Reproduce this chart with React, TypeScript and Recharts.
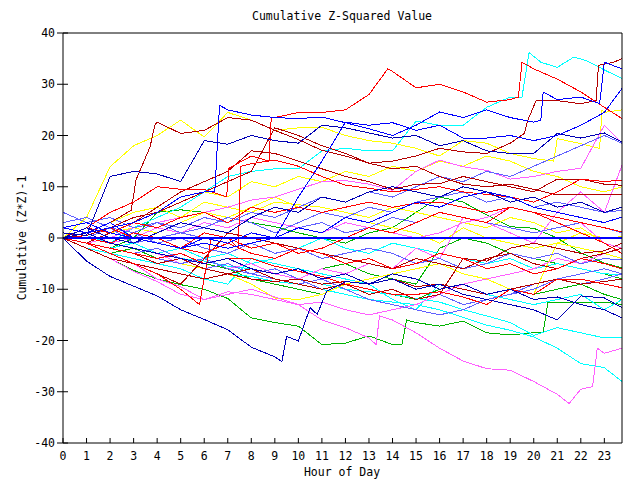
import { LineChart, Line, XAxis, YAxis } from 'recharts';

// sample times (hours): hourly readings plus the last quarter; a few series carry extra points at their jumps
const HOURS = [0, 1, 2, 3, 4, 5, 6, 7, 8, 9, 10, 11, 12, 13, 14, 15, 16, 17, 18, 19, 20, 21, 22, 23, 23.75];
const X_TICKS = [0, 1, 2, 3, 4, 5, 6, 7, 8, 9, 10, 11, 12, 13, 14, 15, 16, 17, 18, 19, 20, 21, 22, 23];
const Y_TICKS = [-40, -30, -20, -10, 0, 10, 20, 30, 40];

const RED = '#ff0000';
const DARKRED = '#b40000';
const BLUE = '#0000ff';
const NAVY = '#0000b4';
const LIGHTBLUE = '#6060ff';
const YELLOW = '#ffff00';
const CYAN = '#00ffff';
const PINK = '#ff60ff';
const GREEN = '#00b400';

const green1T = [0, 1, 2, 3, 4, 5, 6, 7, 8, 9, 10, 11, 12, 13, 14, 14.4, 14.6, 15, 16, 17, 18, 19, 20, 20.4, 20.6, 21, 22, 23, 23.75];
const green1 = [0, -2, -4, -6.3, -8, -9.1, -10, -11.8, -15.6, -16.5, -17.2, -20.8, -20.5, -19.1, -20.8, -20.8, -16, -16.5, -17.2, -16.2, -18.5, -18.9, -18.5, -18.5, -12.5, -12.5, -12.5, -12.5, -13];
const green2 = [0, -1, -2, 0, 5, 5.5, 5, 4, 3, 2.2, 1, 0, -1, 1, 2, 5, 8, 7, 4.5, 2.2, 1.9, 0, -2.9, -4.9, -5.8];
const green3 = [0, 1, -1, -2, -3, -4, -5, -4, -6, -7, -8, -6, -5, -7, -8, -9, -2, 0, -1, -3, -4, -5, -6, -7, -8];
const green4 = [0, -1, -3, -2, -4, -3, -5, -6, -8, -9, -10, -11, -9, -10, -11, -12, -10, -9, -8, -10, -11, -10, -9, -11, -12];

const cyan1T = [0, 1, 2, 3, 4, 5, 6, 7, 8, 9, 10, 11, 12, 13, 14, 15, 16, 17, 18, 19, 19.5, 19.8, 20.3, 21, 21.7, 22.25, 23, 23.75];
const cyan1 = [0, 1, -1, 2, 4, 6, 9, 12, 13, 13.5, 13.5, 17, 17.5, 17, 17, 22.8, 22, 22, 25.5, 27.5, 27.5, 36.2, 34.3, 33.3, 35.3, 34.6, 32.8, 31.1];
const cyan2 = [0, 0.5, -1, -2, -3, -4, -4.5, -5.5, -6, -7, -8, -9, -10, -10.5, -11, -11.8, -12.5, -14, -15.2, -16.5, -19, -17.5, -18.5, -19.5, -19.5];
const cyan3 = [0, -1, -2, -1, -3, -2, -4, -3, -5, -4, -2, 0, -2, -3, -1, -2, -3, -4, -5, -4, -6, -5, -6, -7, -7.1];
const cyan4 = [0, -2, -3, -4, -5, -6, -8, -9, -4, -5, -6, -7, -8, -9, -12, -14, -9, -10, -11, -12, -13, -12, -11, -14, -12];
const cyan5 = [0, -1, -2, -3, -4, -5, -6, -7, -7.5, -8.5, -9, -10, -11, -12, -12.5, -13, -14, -15.5, -17, -18, -19.3, -21.5, -24.5, -25.3, -28];

const yellow1T = [0, 1, 2, 3, 4, 5, 6, 7, 8, 9, 10, 11, 12, 13, 14, 15, 16, 17, 18, 19, 20, 20.85, 21, 22, 22.8, 22.9, 23, 23.75];
const yellow1 = [0, 4, 13.9, 18, 20, 23, 19.7, 24.5, 23, 21, 21.5, 21.6, 20, 19, 18.5, 17.5, 16, 19, 18.5, 16.5, 15.5, 15, 19.4, 18.4, 17.5, 24.9, 24.5, 25];
const yellow2 = [0, -1, 1, 2, 1, 3, 5, 4, 6, 8, 6, 5, 4, 3, 2, 1, -1, 2, 0, -1, -2, -1, 1, 0, 0.25];
const yellow3 = [0, -1, -2, -3, -4, -5, -6, -7, -9, -11.7, -12, -11, -9, -8, -7, -6, -5, -7, -8, -10, -11, -1, -2, -3, -4];
const yellow4 = [0, 1, 3, 5, 6, 4, 7, 6, 5, 7, 6.5, 6, 5, 4, 6, 5, 4, 3, 2, 4, 3, 1, 2, -1, -2];
const yellow5 = [0, 2, 1, 3, 5, 7, 9, 8, 11, 10, 12, 11, 13, 12, 14, 13, 15, 14, 16, 15, 13, 12, 10, 9, 10];

const pink1T = [0, 1, 2, 3, 4, 5, 6, 7, 8, 9, 10, 11, 12, 13, 13.3, 13.45, 14, 15, 16, 17, 18, 19, 20, 21, 21.5, 22, 22.5, 22.7, 23, 23.75];
const pink1 = [0, -2, -4, -6.5, -8.5, -11, -12, -11, -10, -11.5, -13, -16, -17.5, -19.5, -20.8, -15.2, -16, -18.5, -21.5, -24, -25.5, -25.8, -28, -30.5, -32.3, -29.5, -29, -21.5, -22.5, -21.5];
const pink2 = [0, 1, -1, -2, -3, -5, -4, -6, -5, -7, -8, -6, -7, -5, -6, -2, -4, 4, 3, 1, -1, 5, 9, 5, 14.2];
const pink3 = [0, -1, 0, 2, 3, 4, 5, 6, 7.4, 8, 9.5, 11, 11.2, 10.5, 9.3, 13, 15.2, 13.9, 13.2, 11.5, 12, 13, 13.6, 22, 18.5];
const pink4 = [0, -1, -3, -5, -8, -9.5, -12, -10.5, -11, -12, -13, -12.5, -14, -15, -14, -13, -11, -9, -8, -7, -6, -4, -5, -3, -2];
const pink5 = [0, 1, -1, 0, 2, 1, 3, 2, 4, 3, 2, 1, 3, 2, 1, 0, 1, 3, 4, 6, 5, 4, 3, -1, -2];

const lightblue1 = [5, 3, 4, 2, 3, 1, 2, 4, 3, 1, 3, 5, 4, 6, 5, 7, 8, 9, 7, 8, 6, 7, 6, 5, 5.4];
const lightblue2 = [3, 4, 2, 1, -1, 0, -2, -3, -1, -3, -2, -4, -3, -2, -3, -5, -4, -6, -5, -3, -4, -3, -5, -4, -4.3];
const lightblue3 = [1, 0, 2, -1, 0, 1, 0, -1, 1, 0, 2, 3, 1, 2, 4, 3, 5, 4, 3, 2, 1, 2, 3, 2, 1];
const lightblue4 = [0, -1, -2, -3, -4, -5, -4, -6, -7, -8, -9, -8, -10, -12, -13, -14, -15, -14, -12, -11, -9, -8, -9, -8, -7];
const lightblue5 = [0, -1, -2, -3, -2, -4, -6, -5, -7, -6, -8, -10, -9, -11, -10, -12, -11, -13, -12, -11, -10, -8, -7, -6, -7];
const lightblue6 = [0, 1, 2, 1, 3, 2, 4, 3, 5, 4, 6, 8, 7, 9, 8, 10, 12, 11, 13, 12, 14, 16, 18, 20, 18.5];

const darkred1T = [0, 1, 2, 2.9, 3.1, 3.7, 3.9, 4, 5, 6, 7, 8, 9, 10, 11, 12, 13, 14, 15, 16, 17, 18, 19, 19.6, 19.75, 20.1, 21, 22, 22.65, 22.75, 23.4, 23.75];
const darkred1 = [0, 1, 3, 5.4, 11.3, 17.8, 22, 22.6, 20.4, 21, 23.5, 23, 21, 19.2, 17.1, 16, 14.6, 15, 16, 17.5, 16.8, 16.5, 18.5, 20.4, 23, 26.8, 26.8, 26.2, 26.8, 33.7, 34.3, 35];
const darkred2 = [0, 0.5, 2, 4, 5, 7, 9, 11, 13, 21.5, 20, 18, 16.5, 14.6, 13.5, 14, 12, 10.5, 10, 10.5, 9.5, 8.4, 8.4, 8.4, 8.4];
const darkred3 = [0, -1, 1, 3, 6, 9, 11, 13, 17, 16.5, 15, 13.5, 12, 11, 9.5, 10.5, 10.6, 12, 11, 10, 9, 11.5, 11.5, 10.5, 10.3];
const darkred4 = [0, -1, -2, -3, -5, -4, -6, -7, -6, -8, -9, -10, -9, -11, -10, -12, -11, -4, -4.5, -2, -1, -2, -3, -2.5, -1];
const darkred5 = [0, -1, -3, -5, -6, -7, -8, -7, -8, -8.5, -8, -9, -8.5, -9, -8, -9.5, -9, -10, -11, -10, -9, -8, -9, -8.5, -8];
const darkred6 = [0, -2, -4, -5, -7, -9, -4, 1, 0, -1, -2, -3, -4, -5, -6, -4, -5, -6, -4, -3, -5, -6, -4, -3, -2];

const red1T = [0, 1, 2, 3, 4, 5, 6, 6.95, 7.05, 8, 8.75, 8.85, 9, 10, 11, 12, 13, 13.8, 14, 15, 16, 17, 18, 19, 19.35, 19.5, 20, 21, 22, 23, 23.75];
const red1 = [0, 2, 5, 7, 10, 9.5, 9.5, 8, 13.6, 16, 15, 23.6, 23.5, 24.5, 24.5, 25, 28, 33, 32.5, 29.3, 30, 28.5, 26.5, 27, 27.5, 34.3, 33, 31, 28.5, 25.5, 23.3];
const red2 = [0, 1, 2, 0, -1, -2, 1, 0, -2, -1, -3, -2, 0, 2, 1, 3, 5, 4, 3, 6, 5, 3, 1, -1, -3];
const red3T = [0, 1, 2, 3, 4, 5, 5.8, 6.3, 7, 7.45, 7.55, 8, 9, 10, 11, 12, 13, 14, 15, 16, 17, 18, 19, 20, 21, 22, 23, 23.75];
const red3 = [0, -1, -3, -5, -7, -10, -13, 0, 0, -2, 14, 14.5, 15.2, 14, 12, 10.3, 9.7, 9, 9.5, 10, 9, 8.5, 8, 7, 9, 11.5, 11, 11.3];
const red4 = [0, 2, 1, 3, 2, 4, 5, 3, 6, 5, 6, 5, 6, 7, 6, 6.8, 7, 6, 5, 6, 5, 4, 3, 2, 1.2];
const red5 = [0, -1, -2, -3, -4, -3, -5, -4, -4, -5.5, -6.5, -7.5, -9, -10, -11, -11, -10.5, -11.5, -13, -10, -11, -8, -8, -9, -9.7];
const red6 = [1, 0, -1, 1, 0, -2, -3, -1, -3, -4, -2, -3, -5, -4, -6, -5, -3, -4, -6, -5, -7, -6, -4, -5, -6];

const blue1T = [0, 1, 2, 3, 4, 5, 6, 6.45, 6.65, 7, 8, 9, 10, 11, 12, 13, 14, 15, 16, 17, 18, 19, 20, 20.3, 20.4, 21, 22, 22.8, 23, 23.75];
const blue1 = [0, 1, 2, 3, 5, 8, 9, 9, 25.9, 25, 24, 23.5, 23.3, 23.6, 22.5, 21.3, 20, 22, 24.6, 23.5, 25, 23.5, 22.6, 23, 28.5, 27, 27.5, 26.2, 34.3, 33];
const blue2 = [1, 0.5, 12, 13, 12.5, 11, 19, 18.3, 20, 19, 18.5, 22, 21.5, 20.5, 19.5, 20, 18, 19, 17, 16.5, 16.5, 20.4, 19.5, 20.5, 18.7];
const blue3 = [2, 3, 1, 0, -1, -2, -1, -2, -1, 0, 8, 15, 22.6, 22, 22.5, 21, 22, 19.5, 19.5, 20, 19, 20, 22, 24.5, 29.2];
const blue4 = [2, 1, 3, 0, -1, -2, 0, -1, 1, 0, 2, 1, 4, 3, 5, 7, 6, 8, 9, 8, 6, 5, 4, 3, 4.1];
const blue5 = [0, 2, 0, -1, 1, 3, 2, 1, 4, 6, 5, 8, 7, 9, 10, 9, 8, 10, 9, 7, 8, 6, 7, 5, 6];
const navy1T = [0, 1, 2, 3, 4, 5, 6, 7, 8, 9, 9.3, 9.5, 10, 10.5, 10.8, 11.2, 12, 13, 14, 15, 16, 17, 18, 19, 20, 21, 22, 23, 23.75];
const navy1 = [0, -4.5, -7.5, -9.4, -11.3, -14, -15.9, -17.9, -21.3, -23.2, -24.1, -19.2, -20.1, -13.6, -14.9, -10.4, -8.5, -9, -7, -8, -10, -9, -11, -10, -12, -11.5, -13, -14, -15.6];
const navy2 = [0, 1, -1, -2, -3, -4, -5, -4, -6, -7, -6, -8, -7, -9, -8, -10, -9, -11, -12, -13, -14, -16, -11.3, -11.7, -13.6];
const zeroLine = [0, 0, 0, 0, 0, 0, 0, 0, 0, 0, 0, 0, 0, 0, 0, 0, 0, 0, 0, 0, 0, 0, 0, 0, 0];

const SERIES: { key: string; color: string; values: number[]; times?: number[]; width?: number }[] = [
  { key: 'green1', color: GREEN, values: green1, times: green1T },
  { key: 'green2', color: GREEN, values: green2 },
  { key: 'green3', color: GREEN, values: green3 },
  { key: 'green4', color: GREEN, values: green4 },
  { key: 'cyan1', color: CYAN, values: cyan1, times: cyan1T },
  { key: 'cyan2', color: CYAN, values: cyan2 },
  { key: 'cyan3', color: CYAN, values: cyan3 },
  { key: 'cyan4', color: CYAN, values: cyan4 },
  { key: 'cyan5', color: CYAN, values: cyan5 },
  { key: 'yellow1', color: YELLOW, values: yellow1, times: yellow1T },
  { key: 'yellow2', color: YELLOW, values: yellow2 },
  { key: 'yellow3', color: YELLOW, values: yellow3 },
  { key: 'yellow4', color: YELLOW, values: yellow4 },
  { key: 'yellow5', color: YELLOW, values: yellow5 },
  { key: 'pink1', color: PINK, values: pink1, times: pink1T },
  { key: 'pink2', color: PINK, values: pink2 },
  { key: 'pink3', color: PINK, values: pink3 },
  { key: 'pink4', color: PINK, values: pink4 },
  { key: 'pink5', color: PINK, values: pink5 },
  { key: 'lightblue1', color: LIGHTBLUE, values: lightblue1 },
  { key: 'lightblue2', color: LIGHTBLUE, values: lightblue2 },
  { key: 'lightblue3', color: LIGHTBLUE, values: lightblue3 },
  { key: 'lightblue4', color: LIGHTBLUE, values: lightblue4 },
  { key: 'lightblue5', color: LIGHTBLUE, values: lightblue5 },
  { key: 'lightblue6', color: LIGHTBLUE, values: lightblue6 },
  { key: 'darkred1', color: DARKRED, values: darkred1, times: darkred1T },
  { key: 'darkred2', color: DARKRED, values: darkred2 },
  { key: 'darkred3', color: DARKRED, values: darkred3 },
  { key: 'darkred4', color: DARKRED, values: darkred4 },
  { key: 'darkred5', color: DARKRED, values: darkred5 },
  { key: 'darkred6', color: DARKRED, values: darkred6 },
  { key: 'red1', color: RED, values: red1, times: red1T },
  { key: 'red2', color: RED, values: red2 },
  { key: 'red3', color: RED, values: red3, times: red3T },
  { key: 'red4', color: RED, values: red4 },
  { key: 'red5', color: RED, values: red5 },
  { key: 'red6', color: RED, values: red6 },
  { key: 'blue1', color: BLUE, values: blue1, times: blue1T },
  { key: 'blue2', color: NAVY, values: blue2 },
  { key: 'blue3', color: BLUE, values: blue3 },
  { key: 'blue4', color: BLUE, values: blue4 },
  { key: 'blue5', color: NAVY, values: blue5 },
  { key: 'navy1', color: NAVY, values: navy1, times: navy1T },
  { key: 'navy2', color: NAVY, values: navy2 },
  { key: 'zero', color: BLUE, values: zeroLine, width: 2 },
];

const FONT = '"DejaVu Sans Mono", "Liberation Mono", monospace';
const FS = 11.5;

const BottomTick = (props: any) => {
  const { x, y, payload } = props;
  return (
    <g>
      <line x1={x} y1={y} x2={x} y2={y - 5} stroke="#000" />
      <text x={x} y={y + 17} textAnchor="middle" fontFamily={FONT} fontSize={FS} fill="#000">{payload.value}</text>
    </g>
  );
};

const TopTick = (props: any) => {
  const { x, y } = props;
  return <line x1={x} y1={y} x2={x} y2={y + 5} stroke="#000" />;
};

const LeftTick = (props: any) => {
  const { x, y, payload } = props;
  return (
    <g>
      <line x1={x - 6} y1={y} x2={x + 5} y2={y} stroke="#000" />
      <text x={x - 8} y={y + 4} textAnchor="end" fontFamily={FONT} fontSize={FS} fill="#000">{payload.value}</text>
    </g>
  );
};

const RightTick = (props: any) => {
  const { x, y } = props;
  return <line x1={x} y1={y} x2={x - 5} y2={y} stroke="#000" />;
};

export default function App() {
  return (
    <div style={{ position: 'absolute', left: 0, top: 0, width: 640, height: 480, background: '#fff' }}>
      <LineChart width={640} height={480} margin={{ top: 32, right: 17, bottom: 36, left: 62 }}>
        <XAxis xAxisId="b" dataKey="h" type="number" domain={[0, 23.75]} ticks={X_TICKS} interval={0} allowDuplicatedCategory={false}
          height={1} tickSize={0} tickMargin={0} axisLine={{ stroke: '#000' }} tick={<BottomTick />} />
        <XAxis xAxisId="t" dataKey="h" type="number" orientation="top" domain={[0, 23.75]} ticks={X_TICKS} interval={0} allowDuplicatedCategory={false}
          height={1} tickSize={0} tickMargin={0} axisLine={{ stroke: '#000' }} tick={<TopTick />} />
        <YAxis yAxisId="l" type="number" domain={[-40, 40]} ticks={Y_TICKS} interval={0}
          width={1} tickSize={0} tickMargin={0} axisLine={{ stroke: '#000' }} tick={<LeftTick />} />
        <YAxis yAxisId="r" type="number" orientation="right" domain={[-40, 40]} ticks={Y_TICKS} interval={0}
          width={1} tickSize={0} tickMargin={0} axisLine={{ stroke: '#000' }} tick={<RightTick />} />
        {SERIES.map(s => {
          const times = s.times || HOURS;
          const data = times.map((t, i) => ({ h: t, v: s.values[i] }));
          return (
            <Line key={s.key} data={data} xAxisId="b" yAxisId="l" type="linear" dataKey="v" stroke={s.color}
              strokeWidth={s.width || 1} dot={false} activeDot={false} isAnimationActive={false} shapeRendering="crispEdges" />
          );
        })}
      </LineChart>
      <svg width={640} height={480} style={{ position: 'absolute', left: 0, top: 0, pointerEvents: 'none' }}>
        <text x={342} y={20} textAnchor="middle" fontFamily={FONT} fontSize={FS} fill="#000">Cumulative Z-Squared Value</text>
        <text x={342} y={476} textAnchor="middle" fontFamily={FONT} fontSize={FS} fill="#000">Hour of Day</text>
        <text x={26} y={238} textAnchor="middle" fontFamily={FONT} fontSize={FS} fill="#000" transform="rotate(-90 26 238)">Cumulative (Z*Z)-1</text>
      </svg>
    </div>
  );
}
